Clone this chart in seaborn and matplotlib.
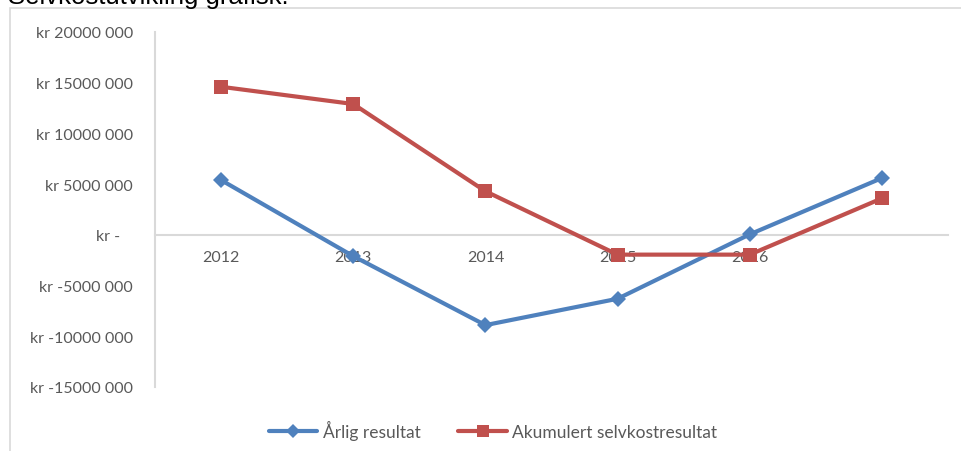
"""
Selvkostutvikling grafisk - linjediagram
"""

import pandas as pd
import matplotlib.pyplot as plt
import matplotlib.ticker as mticker
from matplotlib.lines import Line2D
from matplotlib.patches import Rectangle
import seaborn as sns

# data lest av figuren
years = ["2012", "2013", "2014", "2015", "2016", ""]
arlig = [5.4e6, -2.1e6, -8.9e6, -6.3e6, 0.05e6, 5.6e6]
akumulert = [14.6e6, 12.9e6, 4.3e6, -1.95e6, -1.95e6, 3.6e6]
series = ["Årlig resultat", "Akumulert selvkostresultat"]
yticks = [-15e6, -10e6, -5e6, 0, 5e6, 10e6, 15e6, 20e6]

BLUE = "#4F81BD"
RED = "#C0504D"
GRID = "#D9D9D9"
TXT = "#595959"


def kr_format(v, pos):
    if v == 0:
        return "kr -   "
    s = f"{abs(int(v)):d}"
    s = s[:-3] + " " + s[-3:]
    return f"kr {'-' if v < 0 else ''}{s}"


def main():
    sns.set_theme(style="white")
    plt.rcParams['font.family'] = ['Lato', 'DejaVu Sans']

    df = pd.DataFrame({
        "pos": list(range(len(years))) * 2,
        "verdi": arlig + akumulert,
        "serie": [series[0]] * len(years) + [series[1]] * len(years),
    })

    fig = plt.figure(figsize=(9.61, 4.52), dpi=100)
    ax = fig.add_axes([155 / 961, 1 - 388 / 452, (948 - 155) / 961, (388 - 33) / 452])

    sns.lineplot(data=df, x="pos", y="verdi", hue="serie", style="serie",
                 palette={series[0]: BLUE, series[1]: RED},
                 markers={series[0]: "D", series[1]: "s"}, dashes=False,
                 linewidth=3, markersize=9, markeredgewidth=0, legend=False, ax=ax)
    # firkantene er litt storre
    ax.lines[1].set_markersize(10.5)
    ax.lines[0].set_markersize(8.5)

    ax.set_xlim(-0.5, len(years) - 0.5)
    ax.set_ylim(-15e6, 20e6)
    ax.set_xticks(range(len(years)))
    ax.set_xticklabels(years)
    ax.set_yticks(yticks)
    ax.yaxis.set_major_formatter(mticker.FuncFormatter(kr_format))
    ax.set_xlabel("")
    ax.set_ylabel("")

    for s in ["top", "right"]:
        ax.spines[s].set_visible(False)
    ax.spines["bottom"].set_position(("data", 0))
    ax.spines["bottom"].set_color(GRID)
    ax.spines["bottom"].set_linewidth(1.5)
    ax.spines["left"].set_color(GRID)
    ax.spines["left"].set_linewidth(1.5)
    ax.spines["bottom"].set_zorder(0)
    ax.tick_params(axis="x", length=0, pad=11, labelsize=11.5, labelcolor=TXT)
    ax.tick_params(axis="y", length=0, pad=16, labelsize=11.5, labelcolor=TXT)

    # ramme rundt diagrammet
    fig.patches.append(Rectangle((10 / 961, -0.1), 1.2, 1.1 - 9 / 452 + 0.0,
                                 transform=fig.transFigure, fill=False,
                                 edgecolor=GRID, linewidth=1.2))

    fig.text(8 / 961, 1 - 4 / 452, "Selvkostutvikling grafisk:", va="baseline",
             ha="left", fontsize=18.5, color="black", family=["Liberation Sans", "DejaVu Sans"])

    handles = [
        Line2D([0], [0], color=BLUE, lw=3, marker="D", markersize=7, markeredgewidth=0),
        Line2D([0], [0], color=RED, lw=3, marker="s", markersize=8, markeredgewidth=0),
    ]
    fig.legend(handles, series, loc="center", bbox_to_anchor=(493 / 961, 1 - 431 / 452),
               ncol=2, frameon=False, fontsize=12.5, labelcolor=TXT,
               handlelength=2.8, handletextpad=0.3, columnspacing=2.2)

    fig.savefig("out.png", dpi=100)
    plt.close(fig)


if __name__ == "__main__":
    main()
